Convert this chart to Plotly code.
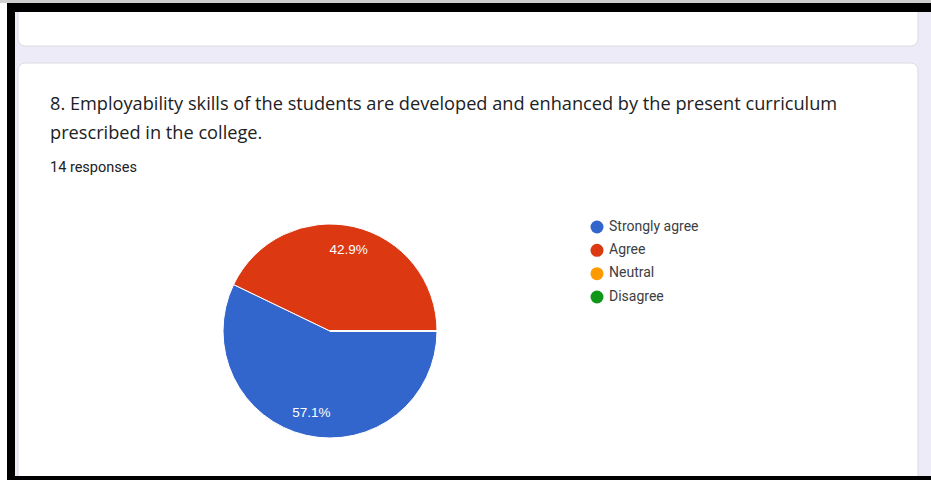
import plotly.graph_objects as go

W, H = 931, 480

# survey answers
categories = ["Strongly agree", "Agree", "Neutral", "Disagree"]
counts = [8, 6, 0, 0]
colors = ["#3366CC", "#DC3912", "#FF9900", "#109618"]

question_lines = [
    "8. Employability skills of the students are developed and enhanced by the present curriculum",
    "prescribed in the college.",
]
responses_text = "14 responses"


def px(x):
    return x / W


def py(y):
    return 1 - y / H


def rounded_rect(x0, y0, x1, y1, r):
    # x/y in screen pixels, converted to paper coords
    rx, ry = r / W, r / H
    X0, X1 = px(x0), px(x1)
    Y0, Y1 = py(y0), py(y1)  # Y0 is top
    return (
        f"M {X0 + rx},{Y0} L {X1 - rx},{Y0} Q {X1},{Y0} {X1},{Y0 - ry} "
        f"L {X1},{Y1 + ry} Q {X1},{Y1} {X1 - rx},{Y1} "
        f"L {X0 + rx},{Y1} Q {X0},{Y1} {X0},{Y1 + ry} "
        f"L {X0},{Y0 - ry} Q {X0},{Y0} {X0 + rx},{Y0} Z"
    )


pie_domain = dict(x=[px(223), px(437)], y=[py(438), py(224)])

fig = go.Figure()

# the pie itself
fig.add_trace(go.Pie(
    labels=categories,
    values=counts,
    marker=dict(colors=colors, line=dict(color="white", width=1)),
    sort=False,
    direction="clockwise",
    rotation=90,
    textinfo="none",
    domain=pie_domain,
    showlegend=False,
    hoverinfo="label+value+percent",
))

# transparent ring on top, only to push the percent labels outward
fig.add_trace(go.Pie(
    labels=categories,
    values=counts,
    hole=0.56,
    marker=dict(colors=["rgba(0,0,0,0)"] * len(categories), line=dict(width=0)),
    sort=False,
    direction="clockwise",
    rotation=90,
    textinfo="percent",
    texttemplate="%{percent:.1%}",
    textposition="inside",
    insidetextorientation="horizontal",
    textfont=dict(family="Arial, Liberation Sans, sans-serif", size=13.5, color="white"),
    domain=pie_domain,
    showlegend=False,
    hoverinfo="skip",
))

# legend drawn as a small marker list
fig.add_trace(go.Scatter(
    x=[0] * len(categories),
    y=list(range(len(categories))),
    mode="markers",
    marker=dict(color=colors, size=13, symbol="circle"),
    cliponaxis=False,
    showlegend=False,
    hoverinfo="skip",
))
fig.add_trace(go.Scatter(
    x=[12] * len(categories),
    y=list(range(len(categories))),
    mode="text",
    text=categories,
    textposition="middle right",
    textfont=dict(family="Roboto, Arial, sans-serif", size=14, color="#3c4043"),
    cliponaxis=False,
    showlegend=False,
    hoverinfo="skip",
))

shapes = [
    # cards
    dict(type="path", path=rounded_rect(18, -20, 918, 46, 8), fillcolor="white",
         line=dict(color="#dadce0", width=1), xref="paper", yref="paper", layer="below"),
    dict(type="path", path=rounded_rect(18, 63, 918, 500, 8), fillcolor="white",
         line=dict(color="#dadce0", width=1), xref="paper", yref="paper", layer="below"),
    # screenshot frame
    dict(type="rect", x0=0, x1=px(7), y0=0, y1=1, fillcolor="white", line_width=0,
         xref="paper", yref="paper", layer="above"),
    dict(type="rect", x0=0, x1=1, y0=py(3), y1=1, fillcolor="#d0d0d0", line_width=0,
         xref="paper", yref="paper", layer="above"),
    dict(type="rect", x0=px(7), x1=1, y0=py(12), y1=py(3), fillcolor="black", line_width=0,
         xref="paper", yref="paper", layer="above"),
    dict(type="rect", x0=px(7), x1=px(15), y0=0, y1=py(3), fillcolor="black", line_width=0,
         xref="paper", yref="paper", layer="above"),
    dict(type="rect", x0=px(7), x1=1, y0=0, y1=py(476), fillcolor="black", line_width=0,
         xref="paper", yref="paper", layer="above"),
]

annotations = []
for i, line in enumerate(question_lines):
    annotations.append(dict(
        text=line, x=px(48), y=py(103 + i * 29), xref="paper", yref="paper",
        xanchor="left", yanchor="middle", showarrow=False,
        font=dict(family="Open Sans, Arial, sans-serif", size=18.2, color="#202124"),
    ))
annotations.append(dict(
    text=responses_text, x=px(48), y=py(167), xref="paper", yref="paper",
    xanchor="left", yanchor="middle", showarrow=False,
    font=dict(family="Roboto, Arial, sans-serif", size=14.5, color="#202124"),
))

fig.update_layout(
    width=W, height=H,
    margin=dict(l=0, r=0, t=0, b=0),
    paper_bgcolor="#edebf7",
    plot_bgcolor="rgba(0,0,0,0)",
    xaxis=dict(domain=[px(597), 1], range=[0, W - 597], visible=False, fixedrange=True),
    yaxis=dict(domain=[py(297), py(227)], range=[3, 0], visible=False, fixedrange=True),
    shapes=shapes,
    annotations=annotations,
)

fig.write_html("out.html", config={"displayModeBar": False},
               post_script="document.body.style.margin='0';")
